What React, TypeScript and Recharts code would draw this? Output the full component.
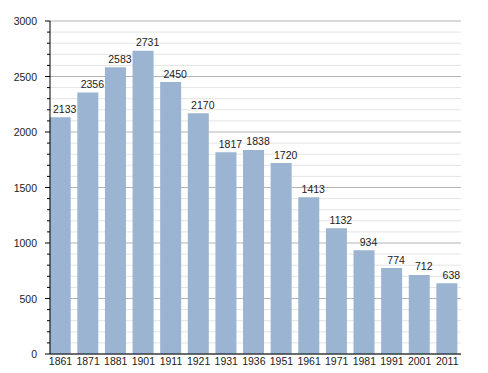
import { BarChart, Bar, XAxis, YAxis, CartesianGrid, LabelList } from "recharts";

const years = ["1861", "1871", "1881", "1901", "1911", "1921", "1931", "1936", "1951", "1961", "1971", "1981", "1991", "2001", "2011"];
const population = [2133, 2356, 2583, 2731, 2450, 2170, 1817, 1838, 1720, 1413, 1132, 934, 774, 712, 638];

const majorTicks = [0, 500, 1000, 1500, 2000, 2500, 3000];
const allTicks = Array.from({ length: 31 }, (_, i) => i * 100);
const minorTicks = allTicks.filter((t) => t % 500 !== 0);

const data = years.map((year, i) => ({ year, value: population[i] }));

const FONT = "'Liberation Sans', Arial, sans-serif";
const FS = 10.5;

const YTick = ({ x, y, payload }: any) => {
  const major = payload.value % 500 === 0;
  return (
    <g>
      <line x1={x - (major ? 5 : 3)} x2={x} y1={y} y2={y} stroke="#000" strokeWidth={1} />
      {major && (
        <text x={x - 13} y={y + 4} textAnchor="end" fontSize={FS} fontFamily={FONT} fill="#222">
          {payload.value}
        </text>
      )}
    </g>
  );
};

const XTick = ({ x, y, payload }: any) => (
  <text x={x} y={364.5} textAnchor="middle" fontSize={FS} fontFamily={FONT} fill="#222">
    {payload.value}
  </text>
);

const ValueLabel = ({ x, y, width, value }: any) => (
  <text x={x + width / 2 + 4.5} y={y - 4.5} textAnchor="middle" fontSize={FS} fontFamily={FONT} fill="#222">
    {value}
  </text>
);

const App = () => {
  return (
    <div style={{ position: "absolute", left: 0, top: 0, background: "#fff" }}>
      <BarChart width={488} height={373} data={data} margin={{ top: 21, right: 27, bottom: 0, left: 0 }} barSize={21}>
        <CartesianGrid vertical={false} horizontalValues={minorTicks} stroke="#e4e4e4" />
        <CartesianGrid vertical={false} horizontalValues={majorTicks} stroke="#b4b4b4" />
        <XAxis
          dataKey="year"
          padding={{ left: -3.3, right: 0 }}
          tickLine={false}
          axisLine={{ stroke: "#000" }}
          height={19}
          interval={0}
          tick={<XTick />}
        />
        <YAxis
          domain={[0, 3000]}
          ticks={allTicks}
          interval={0}
          width={50}
          tickLine={false}
          tickSize={0}
          tickMargin={0}
          axisLine={{ stroke: "#000" }}
          tick={<YTick />}
        />
        <Bar dataKey="value" fill="#9ab4d1" isAnimationActive={false}>
          <LabelList dataKey="value" content={<ValueLabel />} />
        </Bar>
      </BarChart>
    </div>
  );
};

export default App;
